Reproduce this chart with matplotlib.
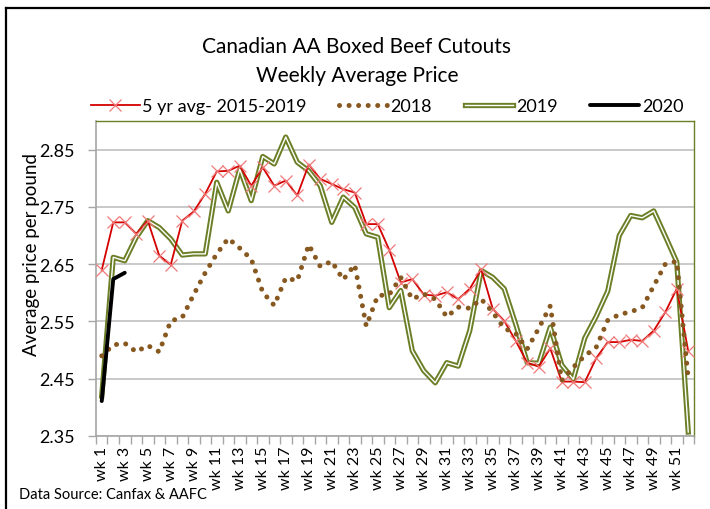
import matplotlib
matplotlib.use("Agg")
import matplotlib.pyplot as plt
import matplotlib.patheffects as pe
from matplotlib.lines import Line2D

plt.rcParams['font.family'] = ['Lato', 'DejaVu Sans']

weeks = list(range(1, 53))
week_labels = [f"wk {w}" for w in weeks]

avg_5yr = [2.640, 2.723, 2.723, 2.703, 2.726, 2.665, 2.649, 2.726, 2.742, 2.773,
           2.812, 2.813, 2.822, 2.787, 2.819, 2.787, 2.796, 2.770, 2.824, 2.799,
           2.790, 2.781, 2.775, 2.720, 2.720, 2.675, 2.618, 2.624, 2.597, 2.595,
           2.601, 2.589, 2.607, 2.641, 2.572, 2.551, 2.516, 2.478, 2.471, 2.503,
           2.445, 2.445, 2.444, 2.486, 2.514, 2.514, 2.518, 2.516, 2.534, 2.566,
           2.607, 2.498]

y2018 = [2.490, 2.509, 2.512, 2.497, 2.508, 2.497, 2.551, 2.557, 2.597, 2.635,
         2.668, 2.695, 2.678, 2.659, 2.601, 2.578, 2.626, 2.621, 2.684, 2.646,
         2.655, 2.623, 2.649, 2.542, 2.595, 2.597, 2.627, 2.589, 2.598, 2.589,
         2.558, 2.575, 2.573, 2.589, 2.566, 2.538, 2.529, 2.502, 2.538, 2.577,
         2.447, 2.470, 2.490, 2.505, 2.552, 2.562, 2.567, 2.574, 2.612, 2.650,
         2.655, 2.450]

y2019 = [2.420, 2.662, 2.656, 2.697, 2.726, 2.714, 2.694, 2.666, 2.668, 2.668,
         2.793, 2.743, 2.816, 2.761, 2.838, 2.825, 2.872, 2.828, 2.813, 2.787,
         2.723, 2.767, 2.749, 2.703, 2.697, 2.574, 2.604, 2.499, 2.464, 2.443,
         2.478, 2.472, 2.534, 2.639, 2.627, 2.607, 2.545, 2.478, 2.477, 2.540,
         2.474, 2.449, 2.521, 2.559, 2.603, 2.700, 2.735, 2.731, 2.743, 2.699,
         2.654, 2.357]

y2020 = [2.411, 2.624, 2.635]

olive = '#6b7f26'
W, H = 710, 510
fig = plt.figure(figsize=(W / 100, H / 100), dpi=100)
ax = fig.add_axes([96 / W, (H - 437) / H, (694 - 96) / W, (437 - 122) / H])

# 2019 double line: olive stroke with white core
ax.plot(weeks, y2019, color='white', lw=1.0, zorder=2, label='2019',
        path_effects=[pe.Stroke(linewidth=3.8, foreground=olive), pe.Normal()])
ax.plot(weeks, avg_5yr, color='#d40000', lw=1.3, marker='x', ms=8.5,
        mec='#f07878', mew=0.9, zorder=3, label='5 yr avg- 2015-2019')
ax.plot(weeks, y2018, color='#87581f', lw=3.6, linestyle=(0, (0.01, 1.9)),
        dash_capstyle='round', zorder=4, label='2018')
ax.plot(weeks[:len(y2020)], y2020, color='black', lw=2.8,
        solid_capstyle='round', zorder=5, label='2020')

ax.set_xlim(0.5, 52.5)
ax.set_ylim(2.35, 2.90)
ax.set_yticks([2.35, 2.45, 2.55, 2.65, 2.75, 2.85])
ax.set_yticklabels(['2.35', '2.45', '2.55', '2.65', '2.75', '2.85'], fontsize=13)
ax.yaxis.grid(True, color='#c0c0c0', lw=1.2)
ax.set_axisbelow(True)
ax.tick_params(axis='y', length=6, width=1, color='#a6a6a6', pad=9)

ax.set_xticks(weeks[::2])
ax.set_xticklabels(week_labels[::2], rotation=90, fontsize=11.5)
ax.set_xticks([w - 0.5 for w in weeks] + [52.5], minor=True)
ax.tick_params(axis='x', which='major', length=0, pad=7)
ax.tick_params(axis='x', which='minor', length=6, width=1, color='#a6a6a6')

for s in ['left', 'bottom']:
    ax.spines[s].set_color('#a6a6a6')
    ax.spines[s].set_linewidth(1.2)
for s in ['top', 'right']:
    ax.spines[s].set_color(olive)
    ax.spines[s].set_linewidth(1.0)

fig.text(32 / W, 1 - 254 / H, 'Average price per pound', rotation=90,
         ha='center', va='center', fontsize=13.5)
fig.text(357 / W, 1 - 47 / H, 'Canadian AA Boxed Beef Cutouts',
         ha='center', va='center', fontsize=15)
fig.text(357 / W, 1 - 76 / H, 'Weekly Average Price',
         ha='center', va='center', fontsize=15)
fig.text(19 / W, 1 - 495 / H, 'Data Source: Canfax & AAFC',
         ha='left', va='center', fontsize=10.5)

handles, labels = ax.get_legend_handles_labels()
order = [1, 2, 0, 3]
fig.legend([handles[i] for i in order], [labels[i] for i in order],
           loc='center', bbox_to_anchor=(387 / W, 1 - 107 / H), ncol=4,
           frameon=False, fontsize=13, handlelength=2.7, handletextpad=0.15,
           columnspacing=1.8, borderaxespad=0)

# outer chart border (left and top edges visible)
fig.add_artist(Line2D([6 / W, 6 / W], [0, 1 - 9 / H], transform=fig.transFigure,
                      color='black', lw=1.6))
fig.add_artist(Line2D([6 / W, 1], [1 - 9 / H, 1 - 9 / H], transform=fig.transFigure,
                      color='black', lw=1.6))

fig.savefig('out.png', dpi=100, facecolor='white')
